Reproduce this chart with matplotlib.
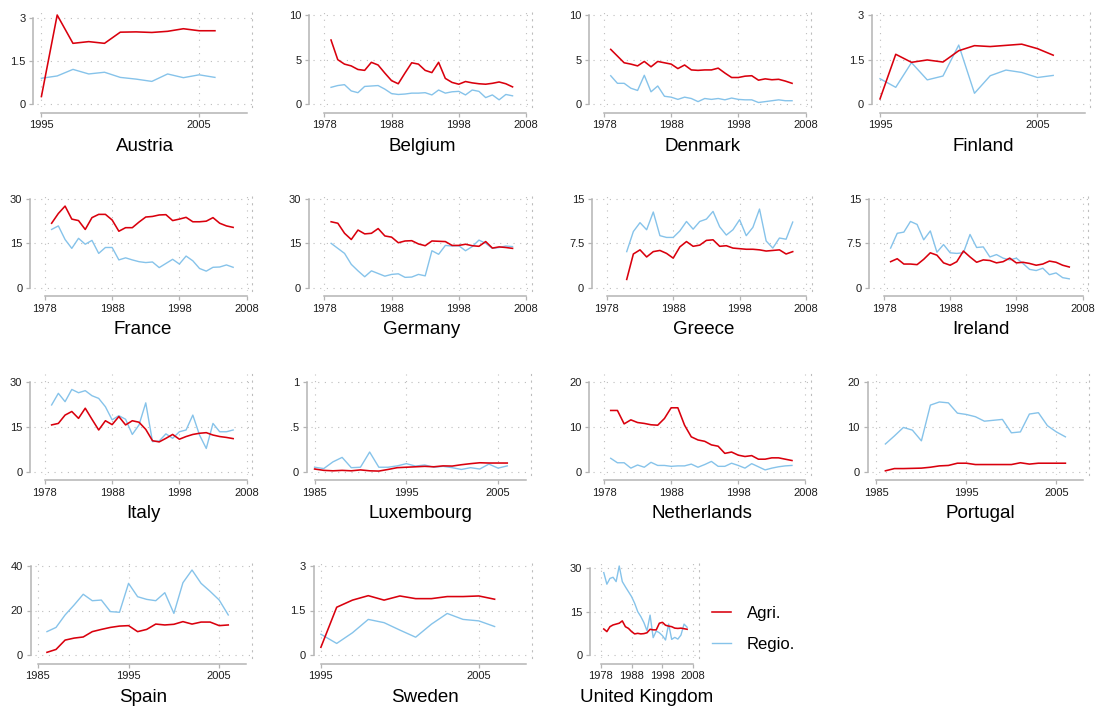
import matplotlib.pyplot as plt

plt.rcParams['font.family'] = ['Liberation Sans', 'DejaVu Sans']

W, H = 1097, 708
RED = '#d9000d'
BLUE = '#86c3ea'
GRID = '#bdbdbd'
SPINE = '#b4b4b4'

# ---- data ----
yrs_79 = list(range(1979, 2007))
yrs_81 = list(range(1981, 2007))
yrs_85 = list(range(1985, 2007))
yrs_86 = list(range(1986, 2007))
yrs_95 = list(range(1995, 2007))

austria_agri = [0.27, 3.12, 2.13, 2.19, 2.13, 2.52, 2.53, 2.51, 2.55, 2.64, 2.57, 2.57]
austria_regio = [0.91, 0.99, 1.22, 1.06, 1.12, 0.94, 0.88, 0.80, 1.06, 0.93, 1.03, 0.94]

belgium_agri = [7.2, 5.0, 4.5, 4.3, 3.9, 3.8, 4.7, 4.4, 3.5, 2.65, 2.3, 3.5, 4.65, 4.5,
                3.8, 3.55, 4.7, 2.9, 2.45, 2.25, 2.55, 2.4, 2.3, 2.25, 2.35, 2.5, 2.3, 1.95]
belgium_regio = [1.9, 2.1, 2.2, 1.5, 1.3, 2.0, 2.05, 2.1, 1.7, 1.2, 1.1, 1.15, 1.25, 1.25,
                 1.3, 1.05, 1.6, 1.25, 1.4, 1.45, 1.05, 1.6, 1.45, 0.75, 1.05, 0.5, 1.1, 0.95]

denmark_agri = [6.15, 5.4, 4.65, 4.5, 4.3, 4.8, 4.2, 4.8, 4.65, 4.5, 4.0, 4.4, 3.85, 3.8,
                3.85, 3.85, 4.05, 3.5, 3.0, 3.0, 3.15, 3.2, 2.7, 2.85, 2.75, 2.8, 2.6, 2.35]
denmark_regio = [3.2, 2.35, 2.35, 1.8, 1.55, 3.25, 1.4, 2.05, 0.9, 0.8, 0.55, 0.8, 0.65, 0.3,
                 0.65, 0.55, 0.65, 0.5, 0.7, 0.55, 0.5, 0.5, 0.2, 0.3, 0.4, 0.5, 0.4, 0.4]

finland_agri = [0.18, 1.68, 1.41, 1.49, 1.42, 1.8, 1.97, 1.94, 1.98, 2.02, 1.87, 1.65]
finland_regio = [0.86, 0.57, 1.4, 0.82, 0.95, 1.99, 0.37, 0.96, 1.15, 1.07, 0.9, 0.97]

france_agri = [21.8, 25.1, 27.6, 23.2, 22.7, 19.7, 23.7, 24.8, 24.8, 22.9, 19.1, 20.3, 20.3, 22.2,
               23.9, 24.1, 24.6, 24.7, 22.7, 23.2, 23.8, 22.3, 22.3, 22.5, 23.7, 21.8, 20.9, 20.4]
france_regio = [19.7, 20.9, 16.3, 13.3, 16.7, 14.7, 16.0, 11.6, 13.6, 13.6, 9.4, 10.1, 9.4, 8.8,
                8.5, 8.7, 6.8, 8.2, 9.6, 8.0, 10.7, 9.1, 6.5, 5.6, 6.9, 7.0, 7.7, 6.9]

germany_agri = [22.3, 21.8, 18.4, 16.3, 19.5, 18.2, 18.4, 20.0, 17.5, 17.1, 15.2, 15.8, 15.9, 14.8,
                14.2, 15.8, 15.7, 15.6, 14.3, 14.3, 14.7, 14.2, 14.0, 15.6, 13.4, 13.8, 13.6, 13.3]
germany_regio = [15.0, 13.3, 11.6, 7.9, 5.7, 3.7, 5.7, 4.8, 3.9, 4.5, 4.7, 3.5, 3.6, 4.5,
                 4.0, 12.5, 11.3, 14.3, 14.1, 14.2, 12.5, 13.9, 16.1, 15.0, 13.3, 13.6, 14.1, 13.9]

greece_agri = [1.4, 5.7, 6.4, 5.2, 6.1, 6.3, 5.8, 5.0, 6.9, 7.8, 7.0, 7.2, 8.0,
               8.1, 7.0, 7.1, 6.7, 6.6, 6.5, 6.5, 6.4, 6.2, 6.3, 6.4, 5.7, 6.1]
greece_regio = [6.1, 9.5, 11.0, 9.8, 12.8, 8.8, 8.5, 8.5, 9.6, 11.2, 9.9, 11.2, 11.6,
                12.9, 10.3, 8.9, 9.8, 11.5, 8.8, 10.2, 13.3, 7.9, 6.7, 8.4, 8.2, 11.1]

ireland_agri = [4.4, 4.9, 4.0, 4.0, 3.9, 4.8, 5.9, 5.5, 4.2, 3.8, 4.4, 6.2, 5.2, 4.3,
                4.7, 4.6, 4.2, 4.4, 5.0, 4.2, 4.3, 4.1, 3.8, 4.0, 4.5, 4.3, 3.8, 3.5]
ireland_regio = [6.7, 9.2, 9.4, 11.2, 10.7, 8.1, 9.6, 6.0, 7.3, 5.9, 5.8, 5.9, 9.0, 6.8,
                 6.9, 5.2, 5.6, 5.0, 4.7, 5.0, 4.1, 3.1, 2.9, 3.3, 2.2, 2.5, 1.7, 1.5]

italy_agri = [15.7, 16.2, 19.0, 20.2, 17.9, 21.3, 17.6, 14.0, 17.1, 15.8, 18.5, 15.7, 17.1, 16.6,
              14.2, 10.4, 10.0, 11.2, 12.5, 10.9, 11.8, 12.5, 12.9, 13.1, 12.3, 11.8, 11.5, 11.1]
italy_regio = [22.4, 26.3, 23.5, 27.6, 26.5, 27.2, 25.5, 24.6, 21.8, 17.4, 18.8, 17.6, 12.5, 15.7,
               23.1, 10.1, 10.3, 12.7, 11.2, 13.4, 14.0, 19.0, 12.3, 7.8, 16.2, 13.4, 13.4, 14.0]

luxembourg_agri = [0.03, 0.015, 0.01, 0.015, 0.01, 0.02, 0.01, 0.007, 0.025, 0.045, 0.05,
                   0.055, 0.06, 0.055, 0.065, 0.063, 0.078, 0.09, 0.1, 0.097, 0.097, 0.097]
luxembourg_regio = [0.05, 0.035, 0.11, 0.16, 0.045, 0.05, 0.22, 0.05, 0.05, 0.065, 0.09,
                    0.063, 0.075, 0.05, 0.06, 0.045, 0.025, 0.045, 0.03, 0.085, 0.04, 0.065]

netherlands_agri = [13.7, 13.7, 10.7, 11.6, 11.0, 10.8, 10.5, 10.4, 11.9, 14.3, 14.3, 10.4, 7.8, 7.1,
                    6.8, 6.0, 5.7, 4.1, 4.4, 3.7, 3.4, 3.6, 2.8, 2.8, 3.1, 3.1, 2.8, 2.5]
netherlands_regio = [3.0, 2.0, 2.0, 0.8, 1.5, 1.0, 2.1, 1.4, 1.4, 1.2, 1.3, 1.3, 1.7, 1.0,
                     1.6, 2.3, 1.2, 1.2, 1.9, 1.4, 0.8, 1.8, 1.1, 0.4, 0.8, 1.1, 1.3, 1.4]

portugal_agri = [0.2, 0.7, 0.7, 0.75, 0.8, 1.0, 1.3, 1.4, 1.9, 1.9, 1.6,
                 1.6, 1.6, 1.6, 1.6, 2.0, 1.7, 1.9, 1.9, 1.9, 1.9]
portugal_regio = [6.2, 8.0, 9.9, 9.3, 6.9, 14.9, 15.6, 15.4, 13.1, 12.8, 12.3,
                  11.3, 11.5, 11.7, 8.7, 8.9, 12.9, 13.2, 10.3, 8.9, 7.8]

spain_agri = [1.2, 2.5, 6.7, 7.6, 8.1, 10.5, 11.5, 12.4, 13.0, 13.2, 10.5,
              11.5, 13.9, 13.5, 13.8, 15.0, 13.9, 14.8, 14.8, 13.2, 13.5]
spain_regio = [10.5, 12.4, 18.0, 22.5, 27.3, 24.4, 24.7, 19.5, 19.2, 32.2, 26.2,
               25.0, 24.4, 28.0, 18.7, 32.5, 38.2, 32.2, 28.6, 24.7, 18.0]

sweden_agri = [0.26, 1.61, 1.85, 2.0, 1.85, 1.99, 1.9, 1.9, 1.97, 1.97, 1.99, 1.88]
sweden_regio = [0.7, 0.39, 0.75, 1.2, 1.09, 0.84, 0.6, 1.04, 1.4, 1.2, 1.15, 0.96]

uk_agri = [9.0, 8.1, 9.8, 10.4, 10.7, 11.0, 11.8, 9.8, 9.2, 8.1, 7.3, 7.5, 7.3, 7.4,
           7.7, 8.9, 8.7, 8.7, 11.0, 11.3, 10.3, 10.0, 9.8, 9.3, 9.2, 9.3, 9.1, 8.9]
uk_regio = [28.5, 24.5, 26.5, 26.9, 25.4, 30.8, 25.4, 23.6, 21.9, 20.2, 17.9, 15.0, 13.3, 11.2,
            8.4, 13.8, 6.0, 8.3, 7.7, 6.7, 5.2, 10.7, 5.4, 6.1, 5.5, 6.9, 10.7, 9.6]

xt_long = [1978, 1988, 1998, 2008]
xt_85 = [1985, 1995, 2005]
xt_95 = [1995, 2005]

# name, years, agri, regio, xticks, yticks, ylabels
panels = [
    ('Austria', yrs_95, austria_agri, austria_regio, xt_95, [0, 1.5, 3], ['0', '1.5', '3']),
    ('Belgium', yrs_79, belgium_agri, belgium_regio, xt_long, [0, 5, 10], ['0', '5', '10']),
    ('Denmark', yrs_79, denmark_agri, denmark_regio, xt_long, [0, 5, 10], ['0', '5', '10']),
    ('Finland', yrs_95, finland_agri, finland_regio, xt_95, [0, 1.5, 3], ['0', '1.5', '3']),
    ('France', yrs_79, france_agri, france_regio, xt_long, [0, 15, 30], ['0', '15', '30']),
    ('Germany', yrs_79, germany_agri, germany_regio, xt_long, [0, 15, 30], ['0', '15', '30']),
    ('Greece', yrs_81, greece_agri, greece_regio, xt_long, [0, 7.5, 15], ['0', '7.5', '15']),
    ('Ireland', yrs_79, ireland_agri, ireland_regio, xt_long, [0, 7.5, 15], ['0', '7.5', '15']),
    ('Italy', yrs_79, italy_agri, italy_regio, xt_long, [0, 15, 30], ['0', '15', '30']),
    ('Luxembourg', yrs_85, luxembourg_agri, luxembourg_regio, xt_85, [0, 0.5, 1], ['0', '.5', '1']),
    ('Netherlands', yrs_79, netherlands_agri, netherlands_regio, xt_long, [0, 10, 20], ['0', '10', '20']),
    ('Portugal', yrs_86, portugal_agri, portugal_regio, xt_85, [0, 10, 20], ['0', '10', '20']),
    ('Spain', yrs_86, spain_agri, spain_regio, xt_85, [0, 20, 40], ['0', '20', '40']),
    ('Sweden', yrs_95, sweden_agri, sweden_regio, xt_95, [0, 1.5, 3], ['0', '1.5', '3']),
    ('United Kingdom', yrs_79, uk_agri, uk_regio, xt_long, [0, 15, 30], ['0', '15', '30']),
]

# ---- layout in pixels: first tick px, 2008 px, y-axis line px ----
layout = [
    (41.4, 246.5, 33.3), (324.3, 526.0, 309.0), (604.0, 805.5, 589.3), (880.0, 1084.7, 871.7),
    (44.9, 246.6, 30.0), (324.4, 526.0, 308.7), (606.8, 806.0, 591.8), (884.0, 1082.5, 869.0),
    (44.9, 246.6, 30.0), (314.6, 525.6, 306.5), (604.0, 805.4, 589.3), (876.4, 1083.4, 867.5),
    (37.9, 246.4, 30.5), (320.9, 526.2, 313.5), (600.7, 693.3, 590.0),
]
rows = [(15.0, 104.3), (199.0, 287.7), (382.3, 471.7), (566.0, 655.0)]  # top-value px, zero px

fig = plt.figure(figsize=(W / 100, H / 100), dpi=100)
px2pt = 72 / 100

for i, (name, yrs, agri, regio, xt, yt, yl) in enumerate(panels):
    px_first, px_end, spine_px = layout[i]
    top_px, zero_px = rows[i // 4]
    sx = (px_end - px_first) / (2008 - xt[0])
    left, right = spine_px + 4, px_end + 5.5
    vmax = max(yt[-1], max(agri), max(regio))
    sy = (zero_px - top_px) / vmax
    top, bottom = top_px - 8, zero_px + 3

    ax = fig.add_axes([left / W, 1 - bottom / H, (right - left) / W, (bottom - top) / H])
    la, = ax.plot(yrs, agri, color=RED, lw=1.15, label='Agri.', zorder=3)
    lr, = ax.plot(yrs, regio, color=BLUE, lw=1.0, label='Regio.', zorder=2)

    ax.set_xlim(xt[0] - (px_first - left) / sx, 2008 + 5.5 / sx)
    ax.set_ylim(-3 / sy, vmax + 8 / sy)
    ax.set_xticks(xt)
    ax.set_yticks(yt)
    ax.set_yticklabels(yl)

    ax.grid(True, linestyle=(0, (1, 5)), color=GRID, lw=0.8)
    ax.spines['top'].set_visible(False)
    ax.spines['right'].set_linestyle((0, (1, 5)))
    ax.spines['right'].set_color(GRID)
    ax.spines['right'].set_linewidth(0.8)
    for s in ('left', 'bottom'):
        ax.spines[s].set_color(SPINE)
        ax.spines[s].set_linewidth(1.1)
    ax.spines['left'].set_position(('outward', 4 * px2pt))
    ax.spines['bottom'].set_position(('outward', 5.5 * px2pt))
    ax.spines['left'].set_bounds(yt[0], yt[-1])
    ax.spines['bottom'].set_bounds(xt[0], 2008)

    ax.tick_params(direction='out', length=3, width=0.9, color=SPINE,
                   labelsize=8, labelcolor='#1e1e1e', pad=2.5)
    ax.set_xlabel(name, fontsize=13.5, labelpad=5.5)

fig.legend([la, lr], ['Agri.', 'Regio.'], loc='center left',
           bbox_to_anchor=(712 / W, 1 - 629 / H), frameon=False, fontsize=12,
           borderpad=0, borderaxespad=0, handlelength=1.15, handletextpad=0.95,
           labelspacing=0.95)

fig.savefig('out.png', dpi=100)
